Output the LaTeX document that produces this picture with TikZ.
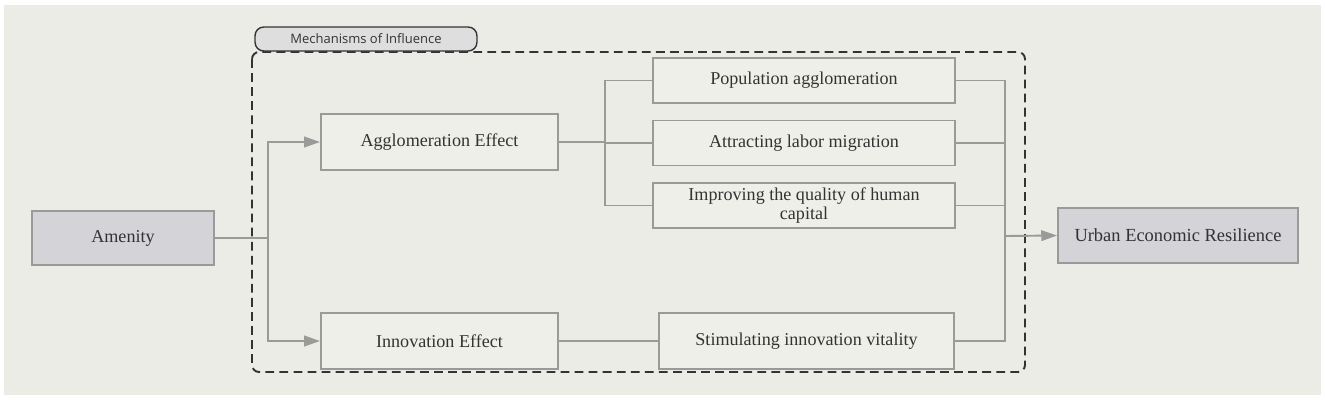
\documentclass[tikz,border=0pt]{standalone}
\usepackage{fontspec}
\setmainfont{Liberation Serif}
\newfontfamily\labelfont{Open Sans}
\usetikzlibrary{arrows.meta}
\definecolor{bgc}{HTML}{ECECE6}
\definecolor{boxfill}{HTML}{EFEFE9}
\definecolor{darkfill}{HTML}{D3D3D8}
\definecolor{edge}{HTML}{9A9A98}
\definecolor{txt}{HTML}{333333}
\definecolor{tagfill}{HTML}{DEDEDF}
\tikzset{
  plainbox/.style={draw=edge, line width=1.1pt, fill=boxfill, text=txt, font=\fontsize{10.3}{11.5}\selectfont, align=center, inner sep=2pt},
  keybox/.style={plainbox, fill=darkfill},
  link/.style={draw=edge, line width=1.1pt},
  arrowlink/.style={link, -{Triangle[length=9pt,width=6pt]}},
}
\begin{document}
\begin{tikzpicture}[x=0.02cm, y=-0.02cm]
\useasboundingbox (0,0) rectangle (1325,400);
\fill[white] (0,0) rectangle (1325,400);
\fill[bgc] (4,5) rectangle (1321,395);
% dashed group
\draw[txt, line width=1.1pt, dash pattern=on 5pt off 3pt, rounded corners=4pt] (252,52) rectangle (1025,372);
\node[draw=txt, line width=0.8pt, fill=tagfill, rounded corners=5pt, minimum width=4.44cm, minimum height=0.48cm, inner sep=0pt, text=txt, font=\labelfont\fontsize{7.4}{9}\selectfont] (tag) at (366,39) {Mechanisms of Influence};
% nodes
\node[keybox, minimum width=3.64cm, minimum height=1.08cm] (amen) at (123,238) {Amenity};
\node[plainbox, minimum width=4.74cm, minimum height=1.12cm] (agg) at (439.5,142) {Agglomeration Effect};
\node[plainbox, minimum width=4.74cm, minimum height=1.12cm] (inn) at (439.5,341) {Innovation Effect};
\node[plainbox, minimum width=6.04cm, minimum height=0.9cm] (pop) at (804,80.5) {Population agglomeration};
\node[plainbox, minimum width=6.04cm, minimum height=0.9cm] (lab) at (804,143) {Attracting labor migration};
\node[plainbox, minimum width=6.04cm, minimum height=0.9cm, inner ysep=0pt, font=\fontsize{10.3}{10.5}\selectfont] (hum) at (804,205.5) {Improving the quality of human\\capital};
\node[plainbox, minimum width=5.9cm, minimum height=1.12cm] (sti) at (806.5,341) {Stimulating innovation vitality};
\node[keybox, minimum width=4.8cm, minimum height=1.1cm, font=\fontsize{10.5}{12}\selectfont] (urb) at (1178,235.5) {Urban Economic Resilience};
% junctions
\coordinate (j0) at (268,238);
\coordinate (j1) at (605,142);
\coordinate (j2) at (1005,236);
% connectors
\draw[link] (amen.east) -- (j0);
\draw[arrowlink] (j0) |- (agg.west);
\draw[arrowlink] (j0) |- (inn.west);
\draw[link] (agg.east) -- (j1);
\draw[link] (j1) |- (pop.west);
\draw[link] (j1) |- (lab.west);
\draw[link] (j1) |- (hum.west);
\draw[link] (inn.east) -- (sti.west);
\draw[link] (pop.east) -| (j2);
\draw[link] (lab.east) -| (j2);
\draw[link] (hum.east) -| (j2);
\draw[link] (sti.east) -| (j2);
\draw[arrowlink] (j2) -- (urb.west);
\end{tikzpicture}
\end{document}
